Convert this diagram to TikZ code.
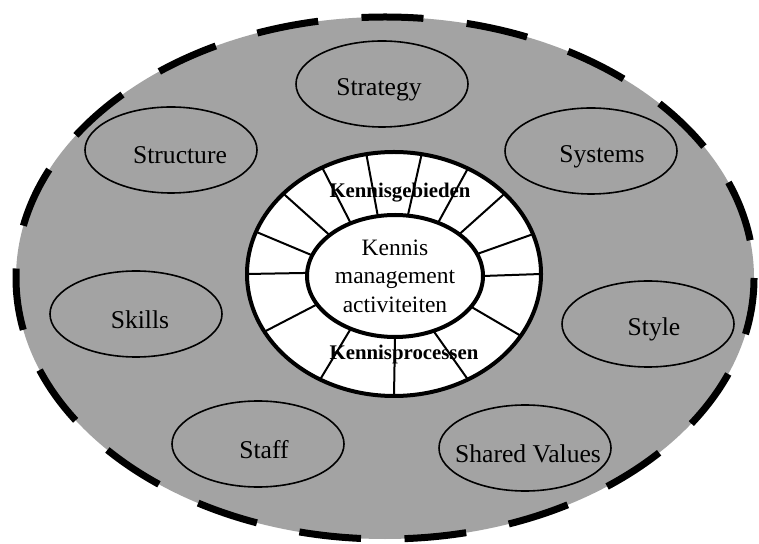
\documentclass[tikz,border=0pt]{standalone}
\usepackage{fontspec}
\setmainfont{Liberation Serif}
\usetikzlibrary{shapes.geometric}
\definecolor{dither}{gray}{0.64}

\begin{document}
\begin{tikzpicture}[
  x=0.5pt, y=-0.5pt,
  rim/.style={fill=dither, draw, line width=3.5pt,
              dash pattern=on 31pt off 21.75pt, dash phase=2.5pt},
  factor/.style 2 args={draw, ellipse, fill=dither, line width=0.8pt,
                 inner sep=0pt, minimum width=86pt, minimum height=43pt,
                 label={[anchor=base, xshift=#2, yshift=-2.75pt,
                         font=\fontsize{12.8}{15}\selectfont]center:#1}},
  ring/.style={draw, ellipse, fill=white, line width=2pt, outer sep=0pt,
               minimum width=147pt, minimum height=122pt},
  core/.style={draw, ellipse, fill=white, line width=2pt, outer sep=0pt,
               inner sep=0pt, minimum width=88pt, minimum height=61pt,
               align=center, font=\fontsize{11.75}{14.25}\selectfont},
  spoke/.style={line width=1pt},
  tag/.style={anchor=base, font=\bfseries\fontsize{10.4}{12}\selectfont}
]

\fill[white] (0,0) rectangle (759,544);

% dashed outer field
\draw[rim] (385,278) ellipse [x radius=369, y radius=261];

% the seven S's
\node[factor={Strategy}{-1.5pt}]     (strategy)  at (382,84)  {};
\node[factor={Structure}{4.5pt}]     (structure) at (171,150) {};
\node[factor={Systems}{5.5pt}]       (systems)   at (591,151) {};
\node[factor={Skills}{2pt}]          (skills)    at (136,314) {};
\node[factor={Style}{3pt}]           (style)     at (648,324) {};
\node[factor={Staff}{3pt}]           (staff)     at (258,444) {};
\node[factor={Shared Values}{1.5pt}] (shared)    at (525,448) {};

% ring with spokes around the core
\node[ring] (ring) at (394,274) {};
\node[core] (core) at (395,276) {Kennis\\management\\activiteiten};

\foreach \o/\i in {103/106, 77/78, 55/51, 36/33, 16/15, 0/0, -26/-22,
                   -55/-55, -90/-90, -125/-130, 204/200, 180/178,
                   163/166, 144/148, 124/130}
  \draw[spoke] (core.\i) -- (ring.\o);

\node[tag] (gebieden)  at (400,198) {Kennisgebieden};
\node[tag] (processen) at (404,360) {Kennisprocessen};

\end{tikzpicture}
\end{document}
